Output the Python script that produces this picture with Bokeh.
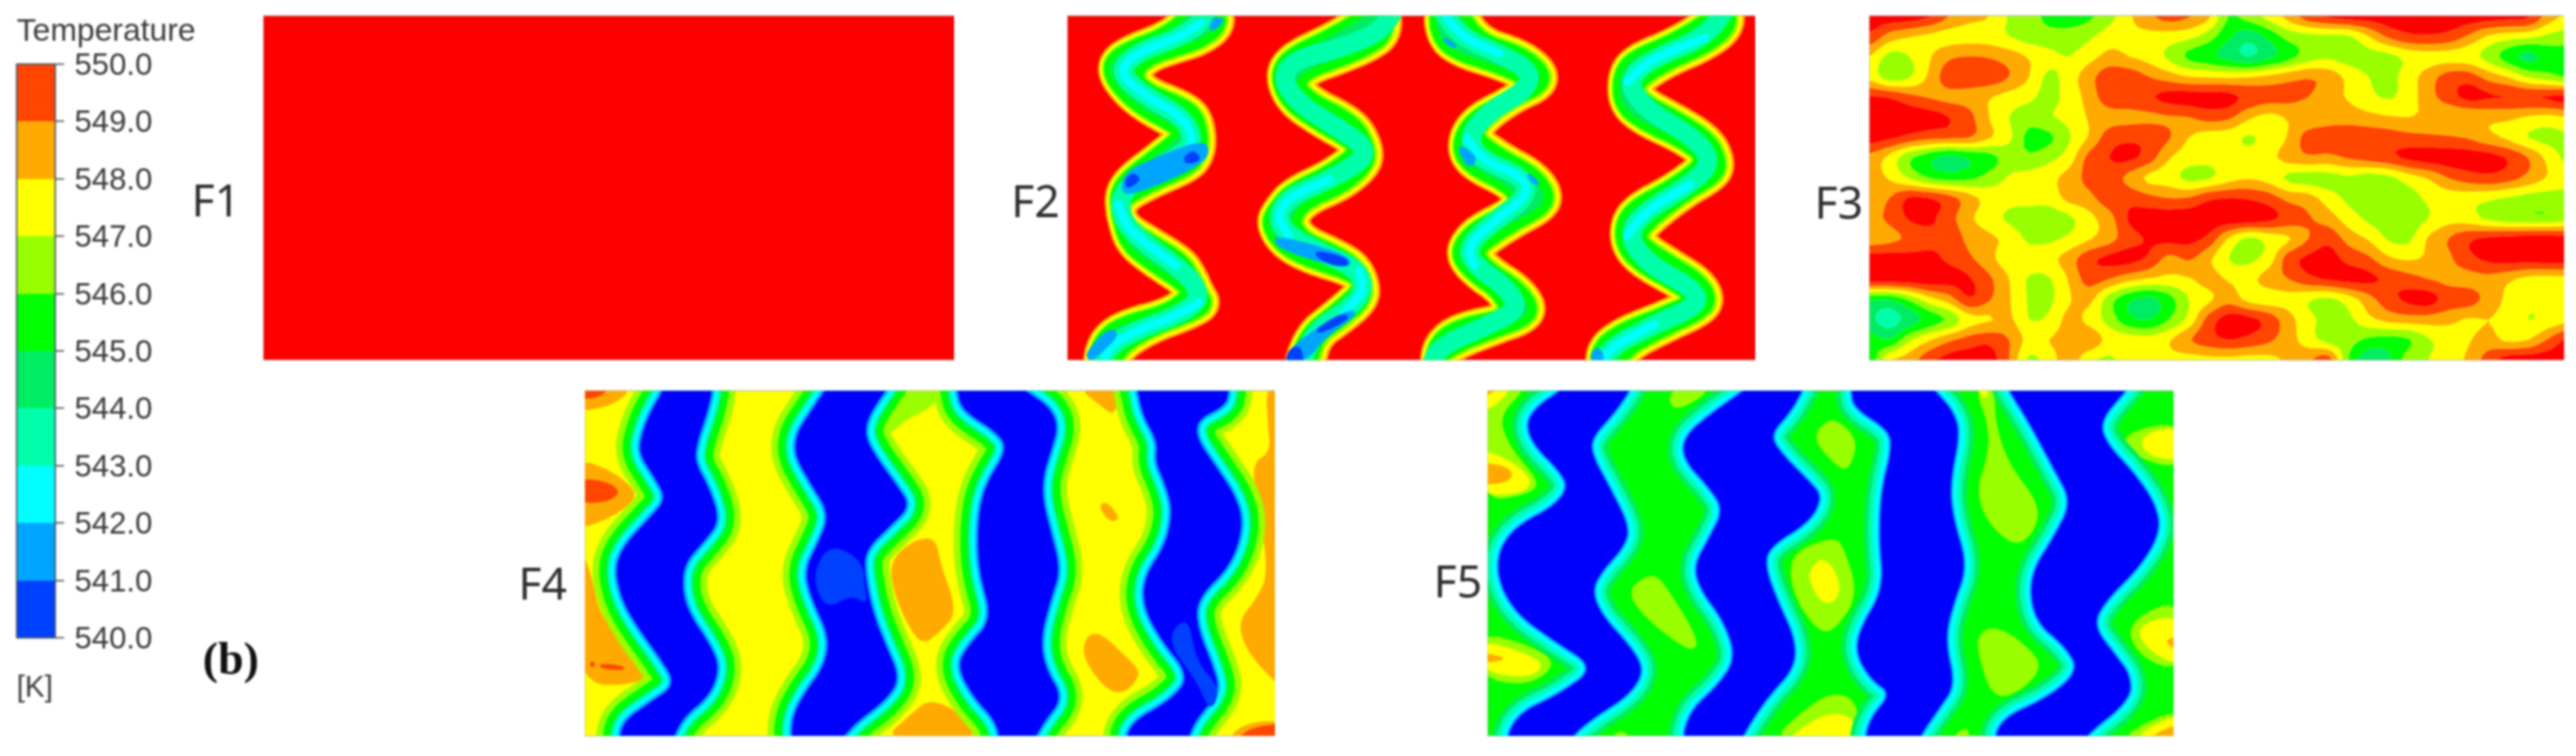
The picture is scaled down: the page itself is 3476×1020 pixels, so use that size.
import numpy as np
from bokeh.plotting import figure
from bokeh.models import Range1d, Label, ColorBar, LinearColorMapper, FixedTicker, PrintfTickFormatter
from bokeh.layouts import row, column
from bokeh.embed import file_html
from bokeh.resources import INLINE

# ---- colour scale -----------------------------------------------------------
LEVELS = [530, 540, 541, 542, 543, 544, 545, 546, 547, 548, 549, 550, 560]
BAND_COLORS = ["#0000ff", "#0040ff", "#00a5ff", "#00ffff", "#00ffaa", "#00ec62",
               "#00ff00", "#99ff00", "#ffff00", "#ffaa00", "#ff4500", "#ff0000"]
BAR_COLORS = BAND_COLORS[1:11]
TICKS = [540, 541, 542, 543, 544, 545, 546, 547, 548, 549, 550]


def col(t):
    for lo, hi, c in zip(LEVELS[:-1], LEVELS[1:], BAND_COLORS):
        if lo <= t < hi:
            return c
    return BAND_COLORS[-1]


# ---- F1: uniform field ------------------------------------------------------
F1_T = 550.6

# ---- F2: channels (core polygons) -------------------------------------------
F2_CORE_A = [(400,40),(345,140),(260,205),(230,260),(240,330),(285,425),(370,520),(375,550),(320,640),(265,725),(245,790),(250,880),(265,990),(315,1070),(375,1150),(395,1190),(350,1270),(255,1320),(212,1385),(200,1500),
             (235,1500),(245,1420),(305,1340),(385,1280),(420,1240),(405,1190),(390,1120),(370,1060),(310,985),(250,910),(248,815),(310,745),(385,680),(405,630),(410,560),(400,470),(370,425),(295,365),(275,295),(305,230),(365,190),(405,165),(445,110),(445,40)]
F2_CORE_B = [(760,40),(670,150),(590,225),(565,300),(585,410),(645,495),(715,575),(725,620),(665,710),(590,780),(558,860),(548,910),(570,990),(620,1050),(715,1110),(735,1160),(715,1210),(675,1280),(625,1360),(600,1500),
             (625,1500),(640,1370),(690,1300),(735,1220),(735,1150),(715,1075),(670,1025),(610,970),(590,890),(620,815),(690,755),(735,680),(745,620),(725,525),(690,470),(630,410),(600,345),(620,285),(690,235),(742,190),(778,140),(780,40)]
F2_CORE_C = [(880,40),(890,160),(930,215),(995,255),(1060,310),(1065,350),(1025,410),(965,470),(935,540),(930,620),(955,680),(1020,745),(1045,800),(1030,860),(960,930),(930,1000),(930,1055),(960,1120),(1010,1190),(1030,1290),(925,1330),(880,1400),(875,1500),
             (870,1500),(900,1420),(990,1345),(1055,1300),(1070,1250),(1040,1170),(985,1100),(950,1020),(1030,910),(1095,840),(1100,780),(1070,705),(1010,640),(955,560),(970,490),(1030,400),(1090,345),(1090,285),(1045,215),(965,165),(925,40)]
F2_CORE_D = [(1455,40),(1360,165),(1275,235),(1250,300),(1250,415),(1285,485),(1375,570),(1425,650),(1355,760),(1280,840),(1255,905),(1255,995),(1285,1070),(1365,1160),(1405,1220),(1325,1290),(1250,1350),(1208,1415),(1205,1500),
             (1235,1500),(1260,1415),(1335,1335),(1405,1270),(1425,1220),(1405,1145),(1345,1070),(1285,990),(1285,930),(1370,790),(1435,715),(1445,660),(1425,570),(1365,490),(1285,405),(1275,335),(1340,250),(1410,190),(1460,120),(1465,40)]
F2_CORES = [F2_CORE_A, F2_CORE_B, F2_CORE_C, F2_CORE_D]
F2_MID_A = [(420,40),(415,90),(370,150),(300,200),(258,260),(262,320),(310,395),(375,470),(398,550),(390,610),(330,680),(270,750),(250,830),(265,920),(310,1000),(365,1080),(405,1160),(410,1230),(360,1290),(290,1340),(230,1410),(215,1500)]
F2_MID_B = [(800,40),(770,130),(690,195),(600,240),(575,320),(610,420),(680,510),(740,590),(738,650),(670,730),(590,800),(565,880),(590,960),(660,1030),(730,1100),(740,1190),(700,1270),(640,1350),(610,1500)]
F2_MID_C = [(895,40),(935,150),(1010,215),(1075,290),(1060,370),(990,450),(945,560),(975,650),(1060,720),(1065,800),(1005,890),(945,1000),(960,1080),(1025,1170),(1050,1260),(980,1330),(890,1410),(870,1500)]
F2_MID_D = [(1460,40),(1420,150),(1310,240),(1265,330),(1300,440),(1400,560),(1435,660),(1390,750),(1300,860),(1265,960),(1310,1080),(1395,1170),(1410,1240),(1320,1320),(1225,1420),(1220,1500)]
F2_MIDS = [F2_MID_A, F2_MID_B, F2_MID_C, F2_MID_D]
F2_CYAN_RUNS = [[(415,90),(370,150),(300,200),(258,260),(262,320),(310,395),(375,470),(398,550),(390,610)],
                [(250,830),(265,920),(310,1000),(365,1080)],
                [(410,1230),(360,1290),(290,1340),(230,1410),(215,1500)],
                [(670,730),(590,800),(565,880),(590,960)],
                [(730,1100),(740,1190),(700,1270)],
                [(895,40),(935,150),(1010,215)],
                [(945,560),(975,650),(1060,720),(1065,800),(1005,890),(945,1000),(960,1080)],
                [(1420,150),(1310,240),(1265,330)],
                [(1390,750),(1300,860),(1265,960)],
                [(1320,1320),(1225,1420),(1220,1500)]]
F2_AZURE = [[(420,570),(430,630),(390,690),(300,770),(255,790),(265,700),(330,640)],
            [(445,70),(460,80),(435,125),(435,90)],
            [(230,1340),(250,1360),(210,1440),(195,1465),(185,1440)],
            [(565,965),(640,1000),(710,1050),(710,1085),(650,1060),(590,1020),(565,990)],
            [(700,1270),(730,1270),(660,1370),(625,1465),(580,1465),(610,1390)],
            [(930,590),(965,640),(950,680),(935,630)],
            [(1065,700),(1090,750),(1075,740)],
            [(895,150),(925,185),(915,185)],
            [(1205,1410),(1220,1465),(1190,1465)]]
F2_BLUE = [[(400,610),(415,650),(385,665),(380,640)],
           [(280,705),(295,730),(265,770),(265,720)],
           [(640,1020),(700,1045),(710,1080),(680,1080),(650,1050)],
           [(690,1280),(715,1290),(660,1350),(640,1350)],
           [(590,1420),(615,1410),(618,1500),(582,1500)]]

# ---- F3: temperature grid ----------------------------------------------------
F3_X = [152,192,232,272,312,352,392,432,472,512,552,592,632,672,712,752,792,832,872,912,952,992,1032,1072,1112,1152,1192,1232,1272,1312,1352,1392,1432,1472,1512,1552]
F3_Y = [52,135,218,301,384,467,550,633,716,799,882,965,1048,1131,1214,1297,1380,1463]
F3_Z = [
 [550.6,550.6,550.5,550.1,549,548.3,548,546.9,546.3,545.8,545.5,545.8,546.6,547.8,548.8,549.4,549.1,548.2,546,546.5,547.4,548.4,549.6,550.2,550.5,550.5,550.6,550.6,550.6,550.6,550.6,550.5,550.4,550.2,548.6,547.8],
 [549.8,548.6,548.1,547.8,547.6,547.6,547.5,547,546.5,546.3,546.4,546.8,547.5,547.8,547.7,547.6,547.3,546.5,545.2,544.4,545.3,546.4,546.7,546.8,546.9,548,549.2,549.8,549.9,549.7,548.9,547.9,547.5,547.3,546.8,546.5],
 [548,546.7,547,547.9,548.8,549,548.9,548.5,547.9,547.3,547,547.6,548.3,548,547.6,546.8,545.8,545.3,544.6,544,544.7,545.6,546.5,546.8,546.5,546.6,546.7,547.3,547.6,547.6,547.4,546.6,545.5,544.7,545.4,545.6],
 [547.7,546.5,546.9,548.2,549.6,549.6,549.6,549,548,546.8,547.5,548.6,549.6,549.6,549,548.5,548,547.9,547.8,547.9,548.2,548.6,548.9,548.6,547.7,547,546.7,547.5,548.5,549.4,549.5,548.6,547.9,546.9,546.4,545.9],
 [550.1,549.9,549.3,548.9,548.7,548.6,548.1,547.6,547.2,546.7,547.4,548.4,549.6,549.7,549.9,550.3,550.4,550.4,550.3,549.7,549.4,549.3,549,548.4,547.9,547.3,546.9,547.5,548.6,549.5,550.3,550.1,550,549.9,550.1,550.3],
 [550.8,550.7,550.6,550.4,550,549.3,548,547,546.5,546.9,547.3,548.1,548.6,548.7,548.8,548.9,549,549.4,549.2,548.2,547.7,548.1,548.1,548.4,548.5,548.3,548.1,548,548.2,548.1,548.1,548.2,548.2,547.9,547.7,548],
 [550.5,550.2,549.7,549.3,549.2,549,548.1,547.2,545.7,545.8,546.9,548.1,549.5,549.8,549.7,549.1,548,547.5,547.4,546.9,547.4,548.1,549.5,549.7,549.7,549.6,549.5,549.3,549.2,549.1,548.9,548.3,547.8,547,546.7,546.8],
 [548.7,547.7,546.2,545.3,544.6,545.1,545.6,546.4,546.2,546.7,547.5,549.3,550,550.2,549.5,548.1,547.5,547.3,547.6,547.4,547.7,548.4,548.8,548.7,549.1,549.4,549.7,550.2,550.4,550.5,550.5,550.4,549.9,549,547.7,546.7],
 [548.4,547.9,546.9,546,545.6,545.8,546.4,547.1,547.4,547.7,548.4,549.3,549.6,548.7,547.8,547.5,546.7,546.9,547.6,547.9,547.6,546.8,546.6,546.6,546.8,546.5,546.7,547.5,548.1,549,549.5,549.7,549.4,548.7,547.9,547.4],
 [548.5,549,550.1,550,549.4,548.4,547.6,547.3,547.4,547.4,548.3,548.7,549.6,549.7,549.3,549,549.1,549.8,550,549.9,549.5,548.7,548.4,547.5,546.8,546.6,546.8,546.6,547.2,547.5,547.4,547.2,546.9,546.6,546.5,546.6],
 [548.7,549.2,550.1,550.2,549.4,548.2,547.5,546.8,546.4,546.4,546.8,547.7,548.6,550.1,550.5,550.6,550.6,550.6,550.6,550.6,550.3,549.6,549.1,548.5,547.5,546.8,546.5,546.5,547,547.6,547.5,546.8,546.4,546.3,546.3,546.6],
 [548.4,548.7,549.2,549.7,549.7,548.7,548.2,547.7,546.8,546.8,547.2,547.9,548.6,549.6,550.1,550.3,550.3,549.7,547.9,546.8,547.4,547.9,549,549.7,548.6,547.9,546.9,546.8,548.1,549,549.8,550.2,550.4,550.5,550.5,550.4],
 [550.5,550.5,550.4,550.3,549.8,549.2,548.3,547.5,547.5,547.7,548.5,549.7,550.2,550.3,549.8,548.7,549.1,548.2,547,546.8,547.5,549.5,550.2,550.4,549.7,549.2,548.2,547.9,548.2,548.8,549.7,550.2,550.4,550.4,550.5,550.5],
 [550.6,550.6,550.6,550.6,550.4,550.1,549.2,548,546.9,546.9,548.1,549.4,549,548.3,547.9,547.7,547.9,548.4,547.9,547.7,548.5,549,549.7,550.1,550.3,550.2,549.8,549.4,549,548.7,548.6,548.7,548.2,547.7,547.6,547.7],
 [545.2,545.1,546.2,547.6,548.5,549.9,549.1,548.1,546.9,546.8,547.9,548.3,546.5,545.2,544.7,545.6,547,547.8,548.6,547.7,547.5,547.6,547.1,546.8,547.5,548.6,549.6,550.2,550.4,549.6,549.5,548.6,547.8,547.4,547.3,547.6],
 [544.2,543.6,544.4,545.4,546.2,547.6,547.9,548.2,547,547.2,548.3,547.7,546.6,545.3,545,546,547.3,549.4,550.4,550.3,549.6,548.4,547.3,546.7,546.8,547.7,548.3,548.5,548.5,548.3,547.9,548,547.7,547,547.3,547.7],
 [545.5,545.1,546.8,547.9,548.8,549.4,549.7,549,547.7,548,548.4,548.7,547.7,547.5,547.4,547.9,548.9,549.6,550,549.7,549.2,548.4,547.5,546.6,546.4,545.8,545.6,545.9,546.9,547.4,547.9,548.4,547.8,548,549.1,550.2],
 [545.3,547.8,548.5,549.7,550.4,550.6,550.5,549,546.8,547.5,548.5,547.3,546.8,547.5,547.5,547.7,547.6,547.7,547.7,547.6,547.7,548.2,548.8,549.5,546,544.3,544.8,546.5,547,547.5,548.2,549.5,550.5,550.6,550.6,550.6],
]

# ---- F4: cold stripes and warm patches ---------------------------------------
F4_S1 = [(320,0),(318,52),(295,130),(280,200),(268,300),(300,400),(325,490),(290,570),(240,680),(222,770),(235,900),(270,1020),(310,1130),(345,1245),(290,1320),(235,1400),(232,1500),
         (330,1500),(355,1380),(410,1290),(430,1175),(410,1080),(370,960),(355,860),(360,750),(400,660),(430,580),(410,450),(380,340),(385,260),(405,140),(415,52),(415,0)]
F4_S2 = [(660,0),(640,52),(615,130),(585,220),(580,310),(610,420),(650,550),(630,660),(600,780),(615,900),(650,1050),(640,1170),(600,1280),(575,1380),(575,1500),
         (660,1500),(700,1400),(760,1310),(790,1220),(760,1080),(735,950),(720,800),(720,700),(770,600),(810,520),(785,440),(745,330),(720,240),(725,160),(760,52),(780,0)]
F4_S3 = [(905,0),(905,52),(915,130),(985,220),(1005,290),(965,420),(950,520),(945,660),(950,800),(975,980),(925,1090),(905,1170),(935,1290),(985,1400),(990,1500),
         (1050,1500),(1075,1400),(1115,1300),(1080,1180),(1070,1060),(1090,900),(1110,780),(1090,620),(1075,500),(1075,400),(1090,300),(1105,200),(1090,120),(1040,52),(1010,0)]
F4_S4 = [(1260,0),(1265,52),(1275,150),(1305,260),(1300,340),(1320,430),(1335,540),(1320,680),(1280,800),(1275,920),(1310,1060),(1370,1210),(1330,1310),(1250,1400),(1240,1500),
         (1360,1500),(1375,1400),(1425,1280),(1420,1200),(1380,1000),(1385,890),(1450,760),(1475,600),(1460,480),(1420,360),(1380,240),(1385,165),(1440,110),(1445,52),(1450,0)]
F4_STRIPES = [F4_S1, F4_S2, F4_S3, F4_S4]
F4_LIME = [[(800,40),(875,40),(860,110),(800,170),(770,230),(740,200)]]
F4_ORANGE = [[(140,30),(260,30),(220,110),(140,140)],
             [(140,325),(210,370),(260,450),(260,500),(210,570),(140,620)],
             [(140,620),(175,800),(190,960),(250,1100),(290,1180),(270,1245),(140,1245)],
             [(1560,30),(1520,30),(1525,200),(1530,300),(1490,350),(1510,560),(1525,800),(1500,900),(1465,990),(1480,1100),(1530,1220),(1560,1260)],
             [(1560,1390),(1480,1400),(1440,1470),(1560,1470)],
             [(1145,40),(1240,40),(1225,100),(1215,150),(1190,110)],
             [(1190,510),(1205,505),(1230,570),(1210,585),(1192,540)],
             [(830,650),(862,655),(870,750),(905,950),(870,1030),(835,1085),(805,1000),(780,880),(770,770),(790,700)],
             [(1175,1035),(1200,1050),(1240,1130),(1270,1190),(1255,1250),(1225,1285),(1190,1240),(1155,1130),(1160,1060)],
             [(850,1300),(920,1370),(950,1470),(755,1470),(810,1370)]]
F4_ORANGERED = [[(140,30),(215,30),(190,80),(140,85)],
                [(140,410),(200,415),(235,460),(205,505),(140,505)],
                [(1560,1400),(1490,1420),(1460,1470),(1560,1470)],
                [(172,1155),(180,1150),(182,1170),(172,1172)],
                [(192,1158),(240,1170),(240,1186),(192,1180)]]
F4_AZURE = [[(650,670),(715,740),(720,850),(725,920),(695,880),(640,940),(615,800)],
            [(1365,960),(1380,1150),(1430,1260),(1410,1360),(1385,1240),(1320,1060)]]

# ---- F5: cold stripes and warm patches ---------------------------------------
F5_S1 = [(320,0),(305,52),(260,110),(235,180),(250,270),(300,370),(320,440),(290,520),(215,600),(180,700),(180,820),(215,950),(290,1060),(375,1170),(300,1280),(215,1360),(190,1500),
         (320,1500),(325,1445),(370,1370),(440,1280),(470,1180),(440,1080),(385,960),(365,860),(385,780),(430,680),(440,600),(400,440),(365,310),(365,240),(410,140),(440,52),(450,0)]
F5_S2 = [(700,0),(670,52),(600,150),(550,240),(550,330),(600,440),(630,530),(600,650),(570,760),(585,860),(630,980),(655,1130),(620,1240),(560,1350),(545,1500),
         (660,1500),(665,1445),(715,1290),(770,1170),(770,1050),(735,900),(710,760),(720,680),(800,580),(825,480),(800,420),(745,310),(720,230),(760,140),(785,52),(795,0)]
F5_S3 = [(885,0),(885,52),(890,120),(960,210),(965,290),(945,450),(940,650),(950,850),(900,1020),(895,1120),(925,1220),(965,1275),(920,1380),(910,1500),
         (1015,1500),(1020,1445),(1060,1330),(1090,1240),(1070,1060),(1085,920),(1115,760),(1085,560),(1080,420),(1100,220),(1085,130),(1050,52),(1030,0)]
F5_S4 = [(1190,0),(1200,52),(1240,180),(1290,370),(1325,500),(1290,640),(1240,800),(1250,980),(1310,1080),(1340,1180),(1280,1290),(1180,1380),(1170,1500),
         (1340,1500),(1350,1445),(1440,1300),(1440,1200),(1410,1120),(1365,1000),(1390,900),(1460,760),(1500,620),(1490,510),(1450,390),(1390,260),(1380,170),(1430,52),(1450,0)]
F5_STRIPES = [F5_S1, F5_S2, F5_S3, F5_S4]
F5_LIME = [[(140,30),(240,30),(190,130),(185,200),(210,300),(262,420),(240,470),(140,500)],
           [(140,1030),(230,1070),(300,1150),(240,1245),(140,1210)],
           [(490,785),(520,860),(580,1060),(565,1110),(490,1000),(445,900),(445,840)],
           [(525,40),(610,40),(545,125),(520,110)],
           [(400,1460),(425,1420),(445,1460)],
           [(845,160),(880,210),(895,270),(880,365),(860,365),(815,270),(815,210)],
           [(850,640),(870,690),(898,880),(850,1020),(820,1025),(780,920),(760,800),(770,700)],
           [(845,1270),(895,1300),(900,1470),(720,1470),(790,1340)],
           [(1130,40),(1170,40),(1170,170),(1195,340),(1260,510),(1250,620),(1210,685),(1150,570),(1135,440),(1155,330),(1160,200)],
           [(1170,1005),(1215,1050),(1270,1160),(1220,1270),(1165,1295),(1135,1100),(1140,1030)],
           [(1080,1460),(1115,1405),(1120,1460)],
           [(1545,170),(1430,220),(1430,300),(1545,380)],
           [(1545,880),(1430,990),(1460,1130),(1545,1190)],
           [(1545,1320),(1400,1470),(1545,1470)]]
F5_YELLOW = [[(140,30),(210,30),(175,110),(140,140)],
             [(140,280),(210,340),(250,420),(220,470),(140,470)],
             [(140,1060),(220,1100),(275,1160),(235,1215),(140,1180)],
             [(815,735),(840,740),(862,830),(855,900),(825,915),(795,800)],
             [(850,1350),(890,1380),(895,1470),(750,1470),(800,1390)],
             [(1135,40),(1160,40),(1150,90)],
             [(1545,190),(1460,230),(1470,310),(1545,340)],
             [(1545,950),(1450,1000),(1475,1100),(1545,1170)],
             [(1545,1340),(1430,1470),(1545,1470)]]
F5_ORANGE = [[(140,30),(190,30),(140,90)],
             [(140,340),(195,355),(210,395),(190,425),(140,430)],
             [(140,1105),(205,1135),(140,1155)],
             [(1545,1040),(1505,1060),(1545,1120)],
             [(1545,1385),(1460,1470),(1545,1470)]]

TITLE = "Temperature"
UNIT = "[K]"
TAG = "(b)"
NAMES = ["F1", "F2", "F3", "F4", "F5"]

OUT = "#b8b8b8"
BLUR = {"filter": "blur(1.4px)"}


def round_off(pts, closed=True, n=3):
    """Corner cutting, so that the traced outlines are drawn as soft curves."""
    a = np.asarray(pts, dtype=float)
    for _ in range(n):
        b = np.roll(a, -1, axis=0) if closed else a[1:]
        c = a if closed else a[:-1]
        q = 0.75 * c + 0.25 * b
        r = 0.25 * c + 0.75 * b
        m = np.empty((2 * len(c), 2))
        m[0::2] = q
        m[1::2] = r
        a = m if closed else np.vstack([a[:1], m, a[-1:]])
    return a


def refine(x, y, z, k=4):
    """Catmull-Rom resampling of the read grid, so that the contours come out soft."""
    z = np.asarray(z, dtype=float)

    def along(arr):
        n = arr.shape[0]
        t = np.arange(0, (n - 1) * k + 1) / k
        i = np.minimum(t.astype(int), n - 2)
        u = (t - i)[:, None]
        p0 = arr[np.maximum(i - 1, 0)]
        p1 = arr[i]
        p2 = arr[i + 1]
        p3 = arr[np.minimum(i + 2, n - 1)]
        return 0.5 * (2 * p1 + (p2 - p0) * u + (2 * p0 - 5 * p1 + 4 * p2 - p3) * u ** 2 + (3 * p1 - p0 - 3 * p2 + p3) * u ** 3)

    zz = along(along(z).T).T
    xx = np.interp(np.arange(0, (len(x) - 1) * k + 1) / k, np.arange(len(x)), x)
    yy = np.interp(np.arange(0, (len(y) - 1) * k + 1) / k, np.arange(len(y)), y)
    return xx, yy, zz


def make(w, h, t, b, xr, yr):
    p = figure(width=w, height=h, x_range=Range1d(*xr), y_range=Range1d(yr[1], yr[0]),
               min_border_left=0, min_border_top=t, min_border_right=0, min_border_bottom=b,
               toolbar_location=None, output_backend="svg", styles=BLUR)
    p.axis.visible = False
    p.grid.visible = False
    p.outline_line_color = OUT
    p.outline_line_width = 2
    p.background_fill_color = "white"
    return p


def gutter(w, h):
    """A blank strip, in page pixels, that carries the text beside a panel."""
    p = figure(width=w, height=h, x_range=Range1d(0, w), y_range=Range1d(h, 0),
               min_border_left=0, min_border_top=0, min_border_right=0, min_border_bottom=0,
               toolbar_location=None, output_backend="svg", styles=BLUR)
    p.axis.visible = False
    p.grid.visible = False
    p.outline_line_color = None
    return p


def polys(p, shapes, t, grow=0, shift=0):
    c = col(t)
    smooth = [round_off(s) for s in shapes]
    p.patches([list(s[:, 0] + shift) for s in smooth], [list(s[:, 1]) for s in smooth],
              fill_color=c, line_color=c, line_width=max(2 * grow, 0.5), line_join="round")


def strokes(p, lines, t, width):
    smooth = [round_off(s, closed=False) for s in lines]
    p.multi_line([list(s[:, 0]) for s in smooth], [list(s[:, 1]) for s in smooth],
                 line_color=col(t), line_width=width, line_join="round", line_cap="round")


def tag(p, x, y, txt, size="60px", font="Noto Sans", style="normal", color="#2c2c2c"):
    p.add_layout(Label(x=x, y=y, text=txt, text_font=font,
                       text_font_size=size, text_font_style=style,
                       text_color=color, text_baseline="middle", text_align="left"))


# ---- legend column -----------------------------------------------------------
leg = gutter(355, 1008)
mapper = LinearColorMapper(palette=BAR_COLORS, low=540, high=550)
cb = ColorBar(color_mapper=mapper, ticker=FixedTicker(ticks=TICKS), formatter=PrintfTickFormatter(format="%.1f"),
              location=(22, 148), width=52, height=774, padding=0, margin=0,
              major_label_text_font="Liberation Sans", major_label_text_font_size="42px",
              major_label_text_color="#3a3a3a", label_standoff=14,
              major_tick_in=0, major_tick_out=12, major_tick_line_color="#555555", major_tick_line_width=2,
              minor_tick_line_color=None, bar_line_color="#445566", bar_line_width=2,
              background_fill_color=None, border_line_color=None)
leg.add_layout(cb)
tag(leg, 22, 39, TITLE, size="43px", font="Liberation Sans", color="#3a3a3a")
tag(leg, 22, 925, UNIT, size="40px", font="Liberation Sans", color="#3a3a3a")
tag(leg, 273, 887, TAG, size="62px", font="Liberation Serif", style="bold", color="#111111")
tag(leg, 258, 268, NAMES[0])

# ---- F1 ----------------------------------------------------------------------
f1 = make(933, 500, 18, 15, (0, 1), (0, 1))
f1.quad(left=[0], right=[1], top=[0], bottom=[1], fill_color=col(F1_T), line_color=None)

# ---- F2 ----------------------------------------------------------------------
g2 = gutter(152, 500)
tag(g2, 76, 268, NAMES[1])
f2 = make(929, 500, 21, 12, (148, 1522), (62, 1465))
f2.quad(left=[148], right=[1522], top=[62], bottom=[1465], fill_color=col(F1_T), line_color=None)
for t, d, s in [(548.5, 21, 6), (547.5, 18, 5), (546.5, 14, 4), (545.5, 11, 3)]:
    polys(f2, F2_CORES, t, grow=d, shift=s)
polys(f2, F2_CORES, 544.5)
strokes(f2, F2_MIDS, 543.5, 26)
strokes(f2, F2_CYAN_RUNS, 542.5, 11)
polys(f2, F2_AZURE, 541.5, grow=2)
polys(f2, F2_BLUE, 540.5, grow=1)

# ---- F3 ----------------------------------------------------------------------
g3 = gutter(153, 500)
tag(g3, 79, 270, NAMES[2])
f3 = make(938, 500, 17, 13, (152, 1545), (52, 1462))
gx, gy, gz = refine(F3_X, F3_Y, F3_Z)
f3.contour(gx, gy, gz, levels=LEVELS, fill_color=BAND_COLORS, line_color=None)

# ---- F4 ----------------------------------------------------------------------
g4 = gutter(434, 500)
tag(g4, 344, 278, NAMES[3])
f4 = make(932, 500, 27, 6, (162, 1540), (52, 1452))
f4.quad(left=[162], right=[1540], top=[52], bottom=[1452], fill_color=col(547.5), line_color=None)
polys(f4, F4_ORANGE, 548.5)
polys(f4, F4_ORANGERED, 549.5)
polys(f4, F4_LIME, 546.5)
for t, d in [(546.5, 33), (545.5, 24), (544.5, 15), (543.5, 13), (542.5, 10), (541.5, 4)]:
    polys(f4, F4_STRIPES, t, grow=d)
polys(f4, F4_STRIPES, 539)
polys(f4, F4_AZURE, 540.5)

# ---- F5 ----------------------------------------------------------------------
g5 = gutter(286, 500)
tag(g5, 213, 275, NAMES[4])
f5 = make(926, 500, 27, 8, (158, 1528), (52, 1445))
f5.quad(left=[158], right=[1528], top=[52], bottom=[1445], fill_color=col(545.5), line_color=None)
polys(f5, F5_LIME, 546.5)
polys(f5, F5_YELLOW, 547.5)
polys(f5, F5_ORANGE, 548.5)
for t, d in [(544.5, 22), (543.5, 16), (542.5, 10), (541.5, 3)]:
    polys(f5, F5_STRIPES, t, grow=d)
polys(f5, F5_STRIPES, 539)

page = row(leg, column(row(f1, g2, f2, g3, f3), row(g4, f4, g5, f5)))
open("out.html", "w").write(file_html(page, INLINE))
